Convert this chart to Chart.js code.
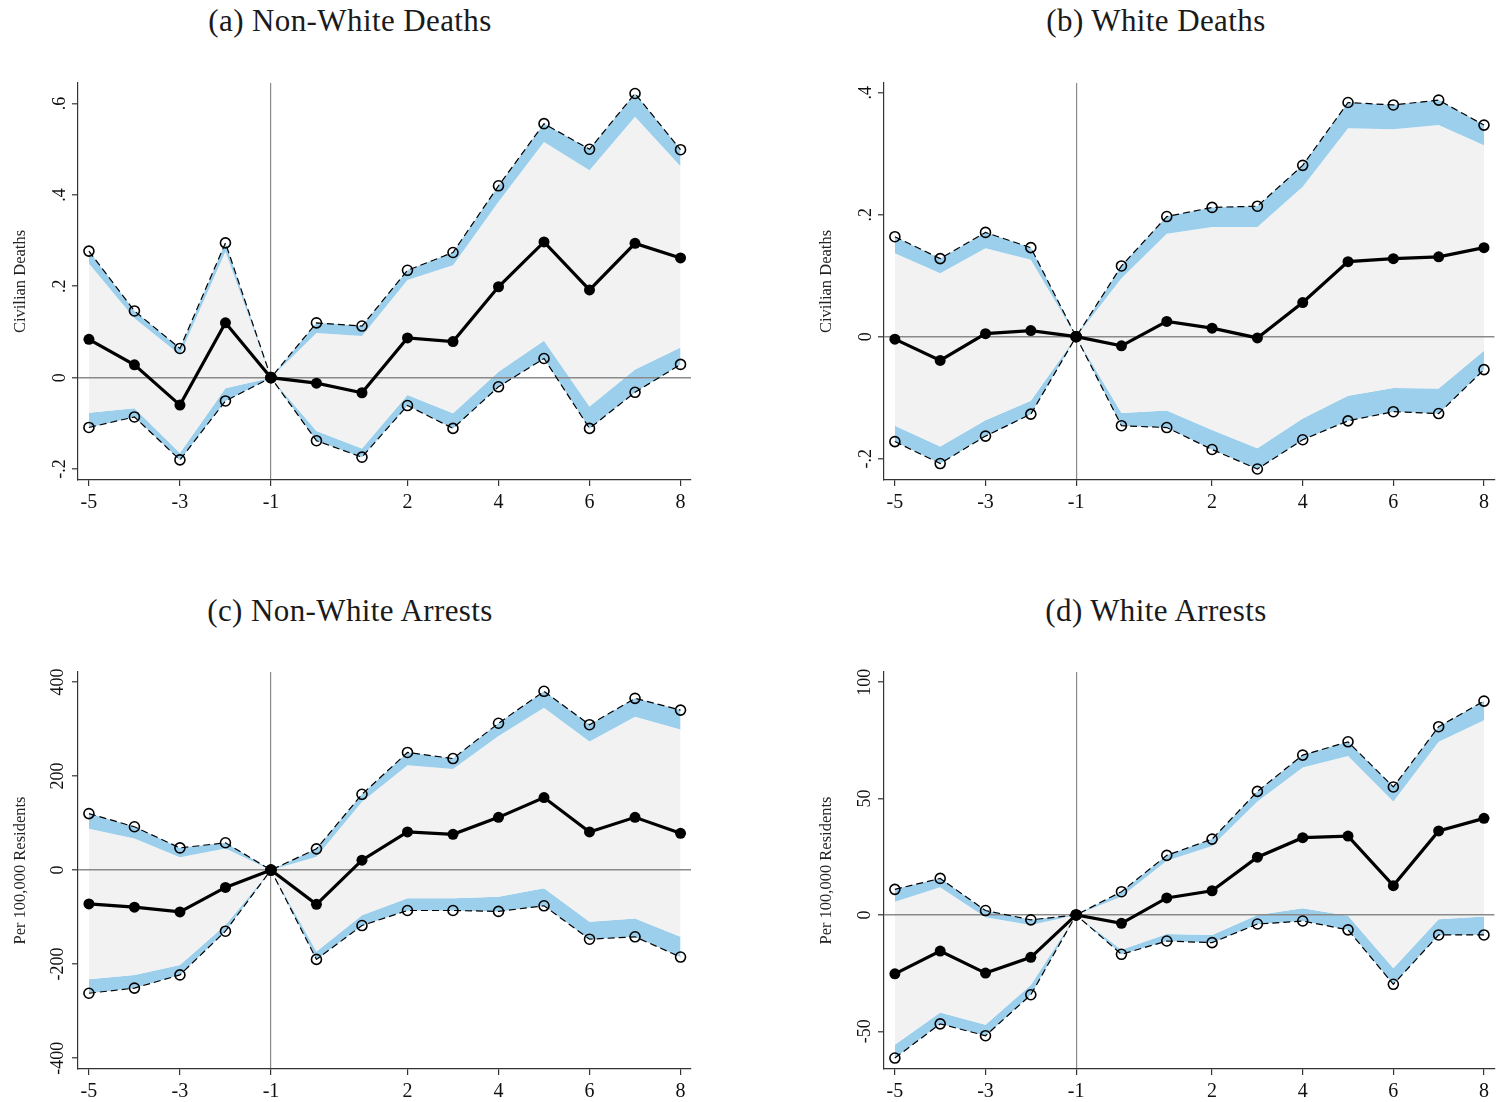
<!DOCTYPE html>
<html>
<head>
<meta charset="utf-8">
<script src="https://cdn.jsdelivr.net/npm/chart.js@4.4.1/dist/chart.umd.min.js"></script>
<style>
  html, body { margin: 0; padding: 0; background: #ffffff; }
  body { width: 1501px; height: 1102px; position: relative; overflow: hidden; }
  canvas { position: absolute; }
  .ttl { position: absolute; font-family: "Liberation Serif", serif; font-size: 31px; line-height: 32px;
         letter-spacing: 0.4px; color: #1a1a1a; white-space: nowrap; transform: translateX(-50%); }
</style>
</head>
<body>
<div class="ttl" style="left:350px; top:5px;">(a) Non-White Deaths</div>
<div class="ttl" style="left:1156px; top:5px;">(b) White Deaths</div>
<div class="ttl" style="left:350px; top:595px;">(c) Non-White Arrests</div>
<div class="ttl" style="left:1156px; top:595px;">(d) White Arrests</div>
<canvas id="ca" width="700" height="480" style="left:0px; top:50px;"></canvas>
<canvas id="cb" width="695" height="480" style="left:806px; top:50px;"></canvas>
<canvas id="cc" width="700" height="480" style="left:0px; top:640px;"></canvas>
<canvas id="cd" width="695" height="480" style="left:806px; top:640px;"></canvas>
<script>
// Event time (years relative to treatment)
const eventTime = [-5, -4, -3, -2, -1, 0, 1, 2, 3, 4, 5, 6, 7, 8];
const xTickValues = [-5, -3, -1, 2, 4, 6, 8];

// (a) Non-White Deaths
const aEstimate = [0.084, 0.028, -0.060, 0.120, 0, -0.012, -0.033, 0.087, 0.079, 0.199, 0.297, 0.192, 0.294, 0.262];
const aUpperOuter = [0.277, 0.146, 0.064, 0.295, 0, 0.120, 0.113, 0.235, 0.274, 0.420, 0.556, 0.500, 0.622, 0.499];
const aUpperInner = [0.250, 0.130, 0.050, 0.276, 0, 0.098, 0.091, 0.214, 0.246, 0.385, 0.516, 0.454, 0.571, 0.463];
const aLowerInner = [-0.077, -0.067, -0.165, -0.023, 0, -0.117, -0.155, -0.038, -0.078, 0.013, 0.081, -0.063, 0.018, 0.066];
const aLowerOuter = [-0.109, -0.086, -0.180, -0.051, 0, -0.138, -0.174, -0.061, -0.111, -0.020, 0.042, -0.111, -0.032, 0.029];
const aYTicks = [-0.2, 0, 0.2, 0.4, 0.6];
const aYLabels = ['-.2', '0', '.2', '.4', '.6'];

// (b) White Deaths
const bEstimate = [-0.004, -0.039, 0.005, 0.010, 0, -0.015, 0.025, 0.014, -0.002, 0.056, 0.123, 0.128, 0.131, 0.146];
const bUpperOuter = [0.164, 0.128, 0.171, 0.146, 0, 0.116, 0.197, 0.212, 0.214, 0.281, 0.384, 0.380, 0.388, 0.347];
const bUpperInner = [0.137, 0.104, 0.145, 0.126, 0, 0.096, 0.169, 0.180, 0.180, 0.246, 0.342, 0.340, 0.347, 0.314];
const bLowerInner = [-0.146, -0.180, -0.137, -0.105, 0, -0.125, -0.121, -0.153, -0.183, -0.134, -0.097, -0.084, -0.085, -0.023];
const bLowerOuter = [-0.172, -0.208, -0.163, -0.127, 0, -0.146, -0.149, -0.185, -0.217, -0.169, -0.138, -0.123, -0.126, -0.054];
const bYTicks = [-0.2, 0, 0.2, 0.4];
const bYLabels = ['-.2', '0', '.2', '.4'];

// (c) Non-White Arrests
const cEstimate = [-72, -79, -89, -37, 0, -73, 21, 81, 76, 112, 154, 81, 112, 78];
const cUpperOuter = [120, 92, 47, 58, 0, 45, 161, 250, 237, 312, 380, 309, 365, 340];
const cUpperInner = [88, 67, 27, 46, 0, 28, 145, 223, 215, 285, 345, 273, 326, 299];
const cLowerInner = [-232, -223, -202, -117, 0, -173, -96, -60, -60, -57, -39, -110, -103, -142];
const cLowerOuter = [-262, -251, -223, -130, 0, -190, -118, -86, -86, -88, -76, -147, -142, -185];
const cYTicks = [-400, -200, 0, 200, 400];
const cYLabels = ['-400', '-200', '0', '200', '400'];

// (d) White Arrests
const dEstimate = [-25.3, -15.5, -25.0, -18.2, 0, -3.6, 7.3, 10.4, 24.8, 33.2, 33.9, 12.6, 36.1, 41.5];
const dUpperOuter = [11.0, 15.7, 1.9, -2.1, 0, 10.0, 25.6, 32.6, 53.1, 68.7, 74.4, 55.0, 80.9, 91.9];
const dUpperInner = [5.7, 11.9, -1.0, -4.3, 0, 7.9, 23.3, 29.6, 48.7, 63.4, 68.3, 48.7, 74.4, 83.7];
const dLowerInner = [-55.8, -41.9, -47.2, -30.1, 0, -15.0, -8.2, -8.6, 0, 2.9, -0.3, -22.9, -1.9, -0.7];
const dLowerOuter = [-61.5, -46.8, -51.9, -34.3, 0, -16.9, -11.2, -11.9, -3.9, -2.6, -6.4, -29.8, -8.6, -8.6];
const dYTicks = [-50, 0, 50, 100];
const dYLabels = ['-50', '0', '50', '100'];

const BLUE = '#9bcfec';
const GRAY = '#f2f2f2';
const SERIF = '"Liberation Serif", "Times New Roman", serif';

function pts(arr) { return eventTime.map((x, i) => ({ x: x, y: arr[i] })); }

function makePanel(id, p) {
  const ctx = document.getElementById(id).getContext('2d');
  new Chart(ctx, {
    type: 'line',
    data: {
      datasets: [
        { data: pts(p.upperOuter), borderColor: '#000', borderWidth: 1.2, borderDash: [7, 4],
          pointRadius: 5, pointBorderWidth: 1.6, pointBorderColor: '#000',
          pointBackgroundColor: 'rgba(0,0,0,0)', fill: '+1', backgroundColor: BLUE, tension: 0, order: 2 },
        { data: pts(p.upperInner), borderWidth: 0, borderColor: 'rgba(0,0,0,0)', pointRadius: 0,
          fill: '+1', backgroundColor: GRAY, tension: 0, order: 3 },
        { data: pts(p.lowerInner), borderWidth: 0, borderColor: 'rgba(0,0,0,0)', pointRadius: 0,
          fill: '+1', backgroundColor: BLUE, tension: 0, order: 4 },
        { data: pts(p.lowerOuter), borderColor: '#000', borderWidth: 1.2, borderDash: [7, 4],
          pointRadius: 5, pointBorderWidth: 1.6, pointBorderColor: '#000',
          pointBackgroundColor: 'rgba(0,0,0,0)', fill: false, tension: 0, order: 1 },
        { data: pts(p.estimate), borderColor: '#000', borderWidth: 3.2,
          pointRadius: 5.5, pointBorderWidth: 0, pointBackgroundColor: '#000',
          fill: false, tension: 0, order: 0 }
      ]
    },
    options: {
      responsive: false,
      animation: false,
      devicePixelRatio: 1,
      events: [],
      layout: { padding: { top: p.padTop, right: p.padRight, left: 0, bottom: 0 } },
      plugins: {
        legend: { display: false },
        tooltip: { enabled: false },
        filler: { drawTime: 'beforeDraw', propagate: false }
      },
      scales: {
        x: {
          type: 'linear', position: 'bottom',
          min: -5.24, max: 8.23,
          afterBuildTicks: (s) => { s.ticks = xTickValues.map(v => ({ value: v })); },
          afterFit: (s) => { s.height = p.xHeight; },
          border: { display: true, color: '#333', width: 1.2 },
          grid: {
            drawOnChartArea: true, drawTicks: true, tickLength: 6, tickWidth: 1.2, tickColor: '#333',
            color: (c) => (c.tick && c.tick.value === -1) ? '#8a8a8a' : 'rgba(0,0,0,0)',
            lineWidth: 1.2
          },
          ticks: {
            autoSkip: false, maxRotation: 0, minRotation: 0, padding: 5, color: '#111',
            font: { family: SERIF, size: 20 },
            callback: (v) => String(v)
          }
        },
        y: {
          type: 'linear', position: 'left',
          min: p.yMin, max: p.yMax,
          afterBuildTicks: (s) => { s.ticks = p.yTicks.map(v => ({ value: v })); },
          afterFit: (s) => { s.width = 78; },
          border: { display: true, color: '#333', width: 1.2 },
          grid: {
            drawOnChartArea: true, drawTicks: true, tickLength: 6, tickWidth: 1.2, tickColor: '#333',
            color: (c) => (c.tick && c.tick.value === 0) ? '#8a8a8a' : 'rgba(0,0,0,0)',
            lineWidth: 1.6
          },
          ticks: {
            autoSkip: false, minRotation: 90, maxRotation: 90, crossAlign: 'center',
            padding: p.yTickPad, color: '#111',
            font: { family: SERIF, size: 18 },
            callback: (v, i) => p.yLabels[i]
          },
          title: {
            display: true, text: p.yTitle, color: '#222',
            font: { family: SERIF, size: 16.5 },
            padding: { top: 11, bottom: 0 }
          }
        }
      }
    }
  });
}

makePanel('ca', { estimate: aEstimate, upperOuter: aUpperOuter, upperInner: aUpperInner,
  lowerInner: aLowerInner, lowerOuter: aLowerOuter, yTicks: aYTicks, yLabels: aYLabels,
  yMin: -0.224, yMax: 0.645, yTitle: 'Civilian Deaths', padTop: 33, padRight: 9, xHeight: 50, yTickPad: 2 });
makePanel('cb', { estimate: bEstimate, upperOuter: bUpperOuter, upperInner: bUpperInner,
  lowerInner: bLowerInner, lowerOuter: bLowerOuter, yTicks: bYTicks, yLabels: bYLabels,
  yMin: -0.235, yMax: 0.416, yTitle: 'Civilian Deaths', padTop: 33, padRight: 3, xHeight: 50, yTickPad: 2 });
makePanel('cc', { estimate: cEstimate, upperOuter: cUpperOuter, upperInner: cUpperInner,
  lowerInner: cLowerInner, lowerOuter: cLowerOuter, yTicks: cYTicks, yLabels: cYLabels,
  yMin: -423, yMax: 421, yTitle: 'Per 100,000 Residents', padTop: 32, padRight: 9, xHeight: 51, yTickPad: -3 });
makePanel('cd', { estimate: dEstimate, upperOuter: dUpperOuter, upperInner: dUpperInner,
  lowerInner: dLowerInner, lowerOuter: dLowerOuter, yTicks: dYTicks, yLabels: dYLabels,
  yMin: -66.2, yMax: 104.4, yTitle: 'Per 100,000 Residents', padTop: 32, padRight: 3, xHeight: 51, yTickPad: -1 });
</script>
</body>
</html>
